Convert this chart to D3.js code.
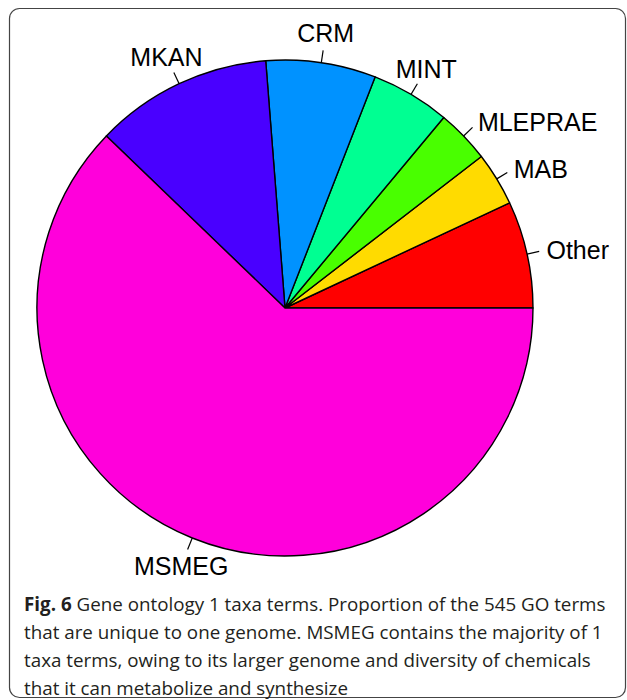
<!DOCTYPE html>
<meta charset="utf-8">
<title>GO 1 taxa terms</title>
<style>
body {
  margin: 0;
  background: #fff;
}
.label {
  font-family: "Liberation Sans", Arial, sans-serif;
  font-size: 25px;
  fill: #000;
}
.caption {
  font-family: "Open Sans", sans-serif;
  font-size: 18.8px;
  fill: #231f20;
}
</style>
<body>
<script src="https://d3js.org/d3.v7.min.js"></script>
<script>
var taxa = ["Other", "MAB", "MLEPRAE", "MINT", "CRM", "MKAN", "MSMEG"],
    counts = [38, 19, 19, 28, 39, 63, 339],
    colors = ["#FF0000", "#FFDB00", "#49FF00", "#00FF92", "#0092FF", "#4900FF", "#FF00DB"];

var captionLines = [
  ["Fig. 6", " Gene ontology 1 taxa terms. Proportion of the 545 GO terms"],
  ["", "that are unique to one genome. MSMEG contains the majority of 1"],
  ["", "taxa terms, owing to its larger genome and diversity of chemicals"],
  ["", "that it can metabolize and synthesize"]
];

var w = 627,
    h = 700,
    cx = 285,
    cy = 308,
    r = 248;

var svg = d3.select("body").append("svg")
    .attr("width", w)
    .attr("height", h);

svg.append("rect")
    .attr("x", 9.5)
    .attr("y", 8.5)
    .attr("width", 616)
    .attr("height", 689)
    .attr("rx", 10)
    .attr("fill", "none")
    .attr("stroke", "#444")
    .attr("stroke-width", 1.2);

// R style pie: counterclockwise from 3 o'clock
var pie = d3.pie()
    .sort(null)
    .startAngle(Math.PI / 2)
    .endAngle(Math.PI / 2 - 2 * Math.PI);

var arc = d3.arc()
    .innerRadius(0)
    .outerRadius(r);

var arcs = pie(counts);

var g = svg.append("g")
    .attr("transform", "translate(" + cx + "," + cy + ")");

g.selectAll("path")
    .data(arcs)
  .enter().append("path")
    .attr("d", arc)
    .attr("fill", function(d, i) { return colors[i]; })
    .attr("stroke", "#000")
    .attr("stroke-width", 1.4)
    .attr("stroke-linejoin", "round");

function mid(d) { return (d.startAngle + d.endAngle) / 2; }
function px(d, k) { return Math.sin(mid(d)) * r * k; }
function py(d, k) { return -Math.cos(mid(d)) * r * k; }

g.selectAll("line.tick")
    .data(arcs)
  .enter().append("line")
    .attr("class", "tick")
    .attr("x1", function(d) { return px(d, 1); })
    .attr("y1", function(d) { return py(d, 1); })
    .attr("x2", function(d) { return px(d, 1.05); })
    .attr("y2", function(d) { return py(d, 1.05); })
    .attr("stroke", "#000")
    .attr("stroke-width", 1.2);

function side(d) {
  var c = Math.sin(mid(d));
  return c > 0.6 ? "start" : (c < -0.6 ? "end" : "middle");
}

g.selectAll("text.label")
    .data(arcs)
  .enter().append("text")
    .attr("class", "label")
    .attr("x", function(d) { return px(d, side(d) == "middle" ? 1.12 : 1.08); })
    .attr("y", function(d) { return py(d, side(d) == "middle" ? 1.12 : 1.08); })
    .attr("dy", "0.36em")
    .attr("text-anchor", side)
    .text(function(d, i) { return taxa[i]; });

var cap = svg.append("g");
captionLines.forEach(function(l, i) {
  var t = cap.append("text")
      .attr("class", "caption")
      .attr("x", 24)
      .attr("y", 611 + i * 28);
  if (l[0]) t.append("tspan").attr("font-weight", "bold").text(l[0]);
  t.append("tspan").text(l[1]);
});
</script>
